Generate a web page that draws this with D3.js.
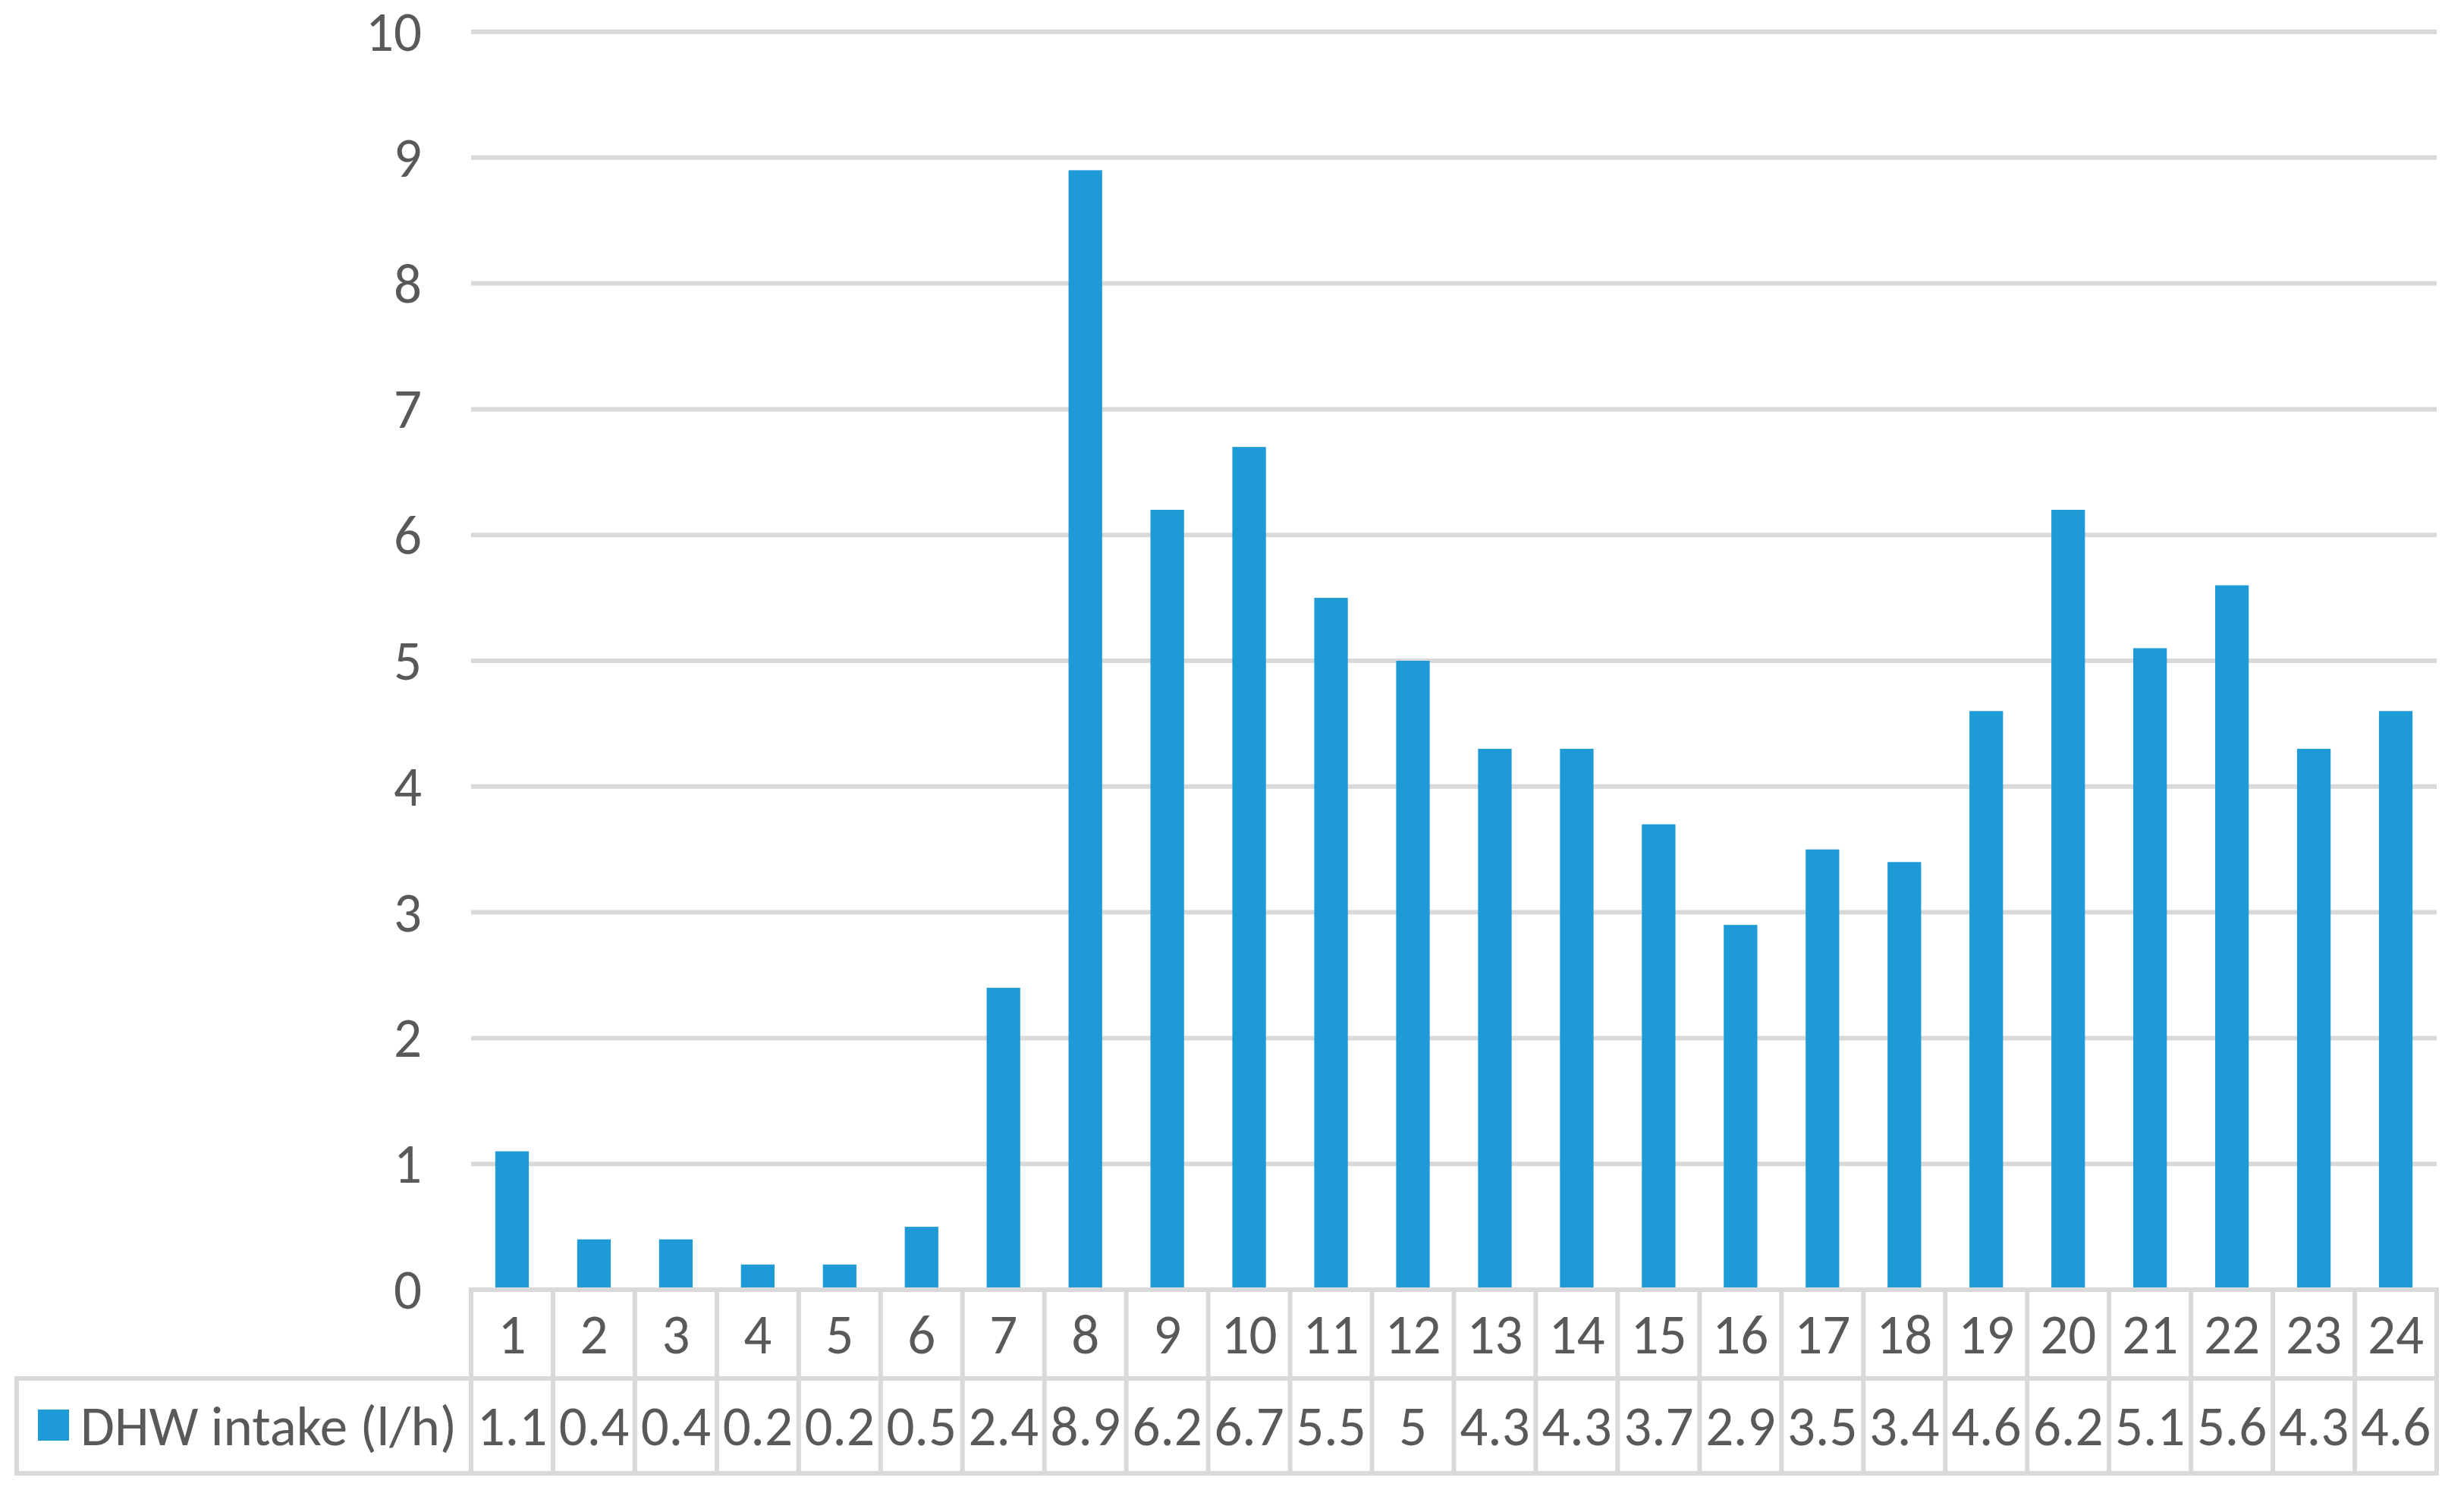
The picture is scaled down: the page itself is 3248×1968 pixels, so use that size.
<!DOCTYPE html>
<html><head><meta charset="utf-8">
<script src="https://cdn.jsdelivr.net/npm/d3@7"></script>
<style>html,body{margin:0;padding:0;background:#fff;}</style>
</head><body>
<svg id="chart" width="3248" height="1968"></svg>
<script>
const categories = ["1","2","3","4","5","6","7","8","9","10","11","12","13","14","15","16","17","18","19","20","21","22","23","24"];
const values = [1.1,0.4,0.4,0.2,0.2,0.5,2.4,8.9,6.2,6.7,5.5,5,4.3,4.3,3.7,2.9,3.5,3.4,4.6,6.2,5.1,5.6,4.3,4.6];
const valueLabels = ["1.1","0.4","0.4","0.2","0.2","0.5","2.4","8.9","6.2","6.7","5.5","5","4.3","4.3","3.7","2.9","3.5","3.4","4.6","6.2","5.1","5.6","4.3","4.6"];
const yTicks = [0,1,2,3,4,5,6,7,8,9,10];
const seriesName = "DHW intake (l/h)";

(function(){
const font = "Calibri, Carlito, Lato, sans-serif";
const fs = 73;
const textColor = "#595959";
const gridColor = "#d9d9d9";
const barColor = "#1e9bd7";

const svg = d3.select("#chart");
svg.append("rect").attr("width",3248).attr("height",1968).attr("fill","#fff");

const pLeft = 621, pRight = 3212, pTop = 42, pBottom = 1700;
const row1Bottom = 1817, row2Bottom = 1942, tableLeft = 22;

const x = d3.scaleBand().domain(categories).range([pLeft, pRight]).padding(0);
const y = d3.scaleLinear().domain([0,10]).range([pBottom, pTop]);

// gridlines
svg.append("g").selectAll("line").data(yTicks.filter(d=>d>0)).join("line")
  .attr("x1", pLeft).attr("x2", pRight)
  .attr("y1", d=>y(d)).attr("y2", d=>y(d))
  .attr("stroke", gridColor).attr("stroke-width", 6);

// y axis labels
svg.append("g").selectAll("text").data(yTicks).join("text")
  .attr("x", 556).attr("y", d=>y(d))
  .attr("text-anchor","end").attr("dominant-baseline","central")
  .attr("font-family", font).attr("font-size", fs).attr("fill", textColor)
  .text(d=>d);

// bars
const bw = x.bandwidth()*0.41;
svg.append("g").selectAll("rect").data(values).join("rect")
  .attr("x", (d,i)=>x(categories[i]) + x.bandwidth()/2 - bw/2)
  .attr("width", bw)
  .attr("y", d=>y(d))
  .attr("height", d=>y(0)-y(d))
  .attr("fill", barColor);

// table
const tg = svg.append("g").attr("stroke", gridColor).attr("stroke-width", 6).attr("fill","none");
tg.append("line").attr("x1", pLeft-3).attr("x2", pRight+3).attr("y1", pBottom).attr("y2", pBottom);
tg.append("line").attr("x1", tableLeft-3).attr("x2", pRight+3).attr("y1", row1Bottom).attr("y2", row1Bottom);
tg.append("line").attr("x1", tableLeft-3).attr("x2", pRight+3).attr("y1", row2Bottom).attr("y2", row2Bottom);
tg.append("line").attr("x1", tableLeft).attr("x2", tableLeft).attr("y1", row1Bottom).attr("y2", row2Bottom);
const bounds = categories.map(c=>x(c)).concat([pRight]);
tg.selectAll("line.v").data(bounds).join("line").attr("class","v")
  .attr("x1", d=>d).attr("x2", d=>d).attr("y1", pBottom).attr("y2", row2Bottom);

// category labels
svg.append("g").selectAll("text").data(categories).join("text")
  .attr("x", d=>x(d)+x.bandwidth()/2).attr("y", (pBottom+row1Bottom)/2)
  .attr("text-anchor","middle").attr("dominant-baseline","central")
  .attr("font-family", font).attr("font-size", fs).attr("fill", textColor)
  .text(d=>d);

// value labels
svg.append("g").selectAll("text").data(valueLabels).join("text")
  .attr("x", (d,i)=>x(categories[i])+x.bandwidth()/2).attr("y", (row1Bottom+row2Bottom)/2)
  .attr("text-anchor","middle").attr("dominant-baseline","central")
  .attr("font-family", font).attr("font-size", fs).attr("fill", textColor)
  .text(d=>d);

// legend
svg.append("rect").attr("x", 50).attr("y", 1858).attr("width", 41).attr("height", 41).attr("fill", barColor);
svg.append("text").attr("x", 106).attr("y", (row1Bottom+row2Bottom)/2)
  .attr("dominant-baseline","central")
  .attr("font-family", font).attr("font-size", fs).attr("fill", textColor)
  .text(seriesName);
})();
</script>
</body></html>
